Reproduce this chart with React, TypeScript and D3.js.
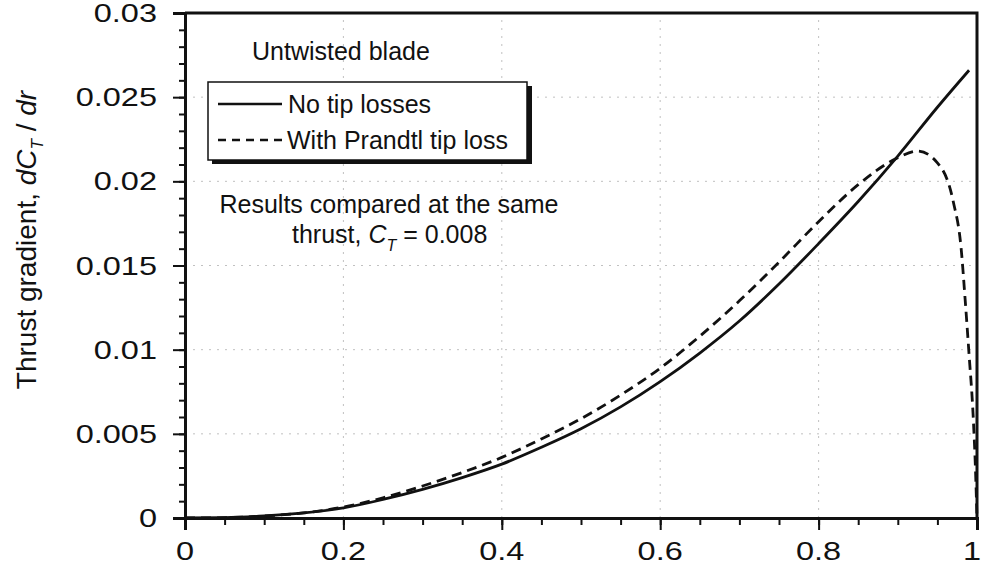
import React, { useEffect, useRef } from 'react'
import * as d3 from 'd3'

// r/R along the blade vs thrust gradient
const rNoLoss = [0, 0.05, 0.1, 0.15, 0.2, 0.25, 0.3, 0.35, 0.4, 0.45, 0.5, 0.55, 0.6, 0.65, 0.7, 0.75, 0.8, 0.85, 0.9, 0.95, 0.99]
const dctNoLoss = [0, 0.00002, 0.00012, 0.0003, 0.0006, 0.0011, 0.0017, 0.0024, 0.0032, 0.0042, 0.0053, 0.0066, 0.0081, 0.0098, 0.0117, 0.0139, 0.0163, 0.0188, 0.0215, 0.0244, 0.0266]

const rPrandtl = [0, 0.05, 0.1, 0.15, 0.2, 0.25, 0.3, 0.35, 0.4, 0.45, 0.5, 0.55, 0.6, 0.65, 0.7, 0.75, 0.8, 0.85, 0.9, 0.925, 0.95, 0.97, 0.98, 0.985, 0.99, 0.995, 0.998, 1]
const dctPrandtl = [0, 0.00002, 0.00012, 0.0003, 0.00065, 0.0012, 0.0019, 0.0027, 0.0036, 0.0047, 0.0059, 0.0073, 0.0089, 0.0108, 0.0129, 0.0152, 0.0176, 0.0198, 0.0214, 0.0218, 0.0211, 0.0188, 0.016, 0.013, 0.0097, 0.0062, 0.003, 0]

const xTicks = [0, 0.2, 0.4, 0.6, 0.8, 1]
const xTickLabels = ['0', '0.2', '0.4', '0.6', '0.8', '1']
const yTicks = [0, 0.005, 0.01, 0.015, 0.02, 0.025, 0.03]
const yTickLabels = ['0', '0.005', '0.01', '0.015', '0.02', '0.025', '0.03']

const W = 982, H = 568
const FONT = '"Liberation Sans", Arial, sans-serif'

function ThrustChart() {
    const ref = useRef<SVGSVGElement>(null)

    useEffect(() => {
        const svg = d3.select(ref.current)
        svg.selectAll('*').remove()

        const x = d3.scaleLinear().domain([0, 1]).range([185, 977])
        const y = d3.scaleLinear().domain([0, 0.03]).range([518, 13])

        // dotted grid
        const grid = svg.append('g').attr('stroke', '#999').attr('stroke-width', 1).attr('stroke-dasharray', '2,6').attr('opacity', 0.6)
        grid.selectAll('line.gx')
            .data(xTicks.slice(1, -1))
            .enter().append('line')
            .attr('x1', d => x(d)).attr('x2', d => x(d))
            .attr('y1', y(0)).attr('y2', y(0.03))
        grid.selectAll('line.gy')
            .data(yTicks.slice(1, -1))
            .enter().append('line')
            .attr('y1', d => y(d)).attr('y2', d => y(d))
            .attr('x1', x(0)).attr('x2', x(1))

        // axes with outward ticks
        const xAxis = d3.axisBottom(x).tickValues(xTicks).tickSize(12).tickFormat(() => '')
        const xMinor = d3.axisBottom(x).tickValues(d3.range(0, 1.0001, 0.05)).tickSize(7).tickFormat(() => '')
        const yAxis = d3.axisLeft(y).tickValues(yTicks).tickSize(12).tickFormat(() => '')
        const yMinor = d3.axisLeft(y).tickValues(d3.range(0, 0.03001, 0.001)).tickSize(6).tickFormat(() => '')

        const styleAxis = (g: any) => {
            g.select('.domain').attr('stroke', '#111').attr('stroke-width', 3)
            g.selectAll('.tick line').attr('stroke', '#111').attr('stroke-width', 2)
        }
        svg.append('g').attr('transform', `translate(0,${y(0)})`).call(xMinor).call(styleAxis)
        svg.append('g').attr('transform', `translate(0,${y(0)})`).call(xAxis).call(styleAxis)
        svg.append('g').attr('transform', `translate(${x(0)},0)`).call(yMinor).call(styleAxis)
        svg.append('g').attr('transform', `translate(${x(0)},0)`).call(yAxis).call(styleAxis)

        // top and right frame
        svg.append('path')
            .attr('d', `M${x(0)},${y(0.03)}H${x(1)}V${y(0)}`)
            .attr('fill', 'none').attr('stroke', '#111').attr('stroke-width', 3)

        // tick labels (glyphs look wide in the original)
        svg.selectAll('text.xl')
            .data(xTicks)
            .enter().append('text')
            .attr('transform', (d: number) => d === 1 ? `translate(981,560) scale(1.3,1)` : `translate(${x(d)},560) scale(1.3,1)`)
            .attr('text-anchor', (d: number) => d === 1 ? 'end' : 'middle')
            .attr('font-family', FONT).attr('font-size', 25).attr('fill', '#111')
            .text((d, i) => xTickLabels[i])
        svg.selectAll('text.yl')
            .data(yTicks)
            .enter().append('text')
            .attr('transform', (d: number) => `translate(157,${y(d) + 9}) scale(1.3,1)`)
            .attr('text-anchor', 'end')
            .attr('font-family', FONT).attr('font-size', 25).attr('fill', '#111')
            .text((d, i) => yTickLabels[i])

        // y axis title
        const yt = svg.append('text')
            .attr('transform', `translate(36,240) rotate(-90)`)
            .attr('text-anchor', 'middle')
            .attr('font-family', FONT).attr('font-size', 28).attr('fill', '#111')
        yt.append('tspan').text('Thrust gradient, ')
        yt.append('tspan').attr('font-style', 'italic').text('dC')
        yt.append('tspan').attr('font-style', 'italic').attr('font-size', 17).attr('dy', 7).text('T')
        yt.append('tspan').attr('dy', -7).text(' / ')
        yt.append('tspan').attr('font-style', 'italic').text('dr')

        // curves
        const line = d3.line<[number, number]>()
            .x(d => x(d[0]))
            .y(d => y(d[1]))
            .curve(d3.curveMonotoneX)

        svg.append('path')
            .datum(rNoLoss.map((r, i) => [r, dctNoLoss[i]] as [number, number]))
            .attr('d', line)
            .attr('fill', 'none').attr('stroke', '#111').attr('stroke-width', 2.8)

        svg.append('path')
            .datum(rPrandtl.map((r, i) => [r, dctPrandtl[i]] as [number, number]))
            .attr('d', line)
            .attr('fill', 'none').attr('stroke', '#111').attr('stroke-width', 2.8)
            .attr('stroke-dasharray', '10,6')

        // annotations
        svg.append('text')
            .attr('x', 252).attr('y', 60)
            .attr('font-family', FONT).attr('font-size', 25).attr('fill', '#111')
            .text('Untwisted blade')

        svg.append('text')
            .attr('x', 389).attr('y', 213).attr('text-anchor', 'middle')
            .attr('font-family', FONT).attr('font-size', 25).attr('fill', '#111')
            .text('Results compared at the same')
        const t2 = svg.append('text')
            .attr('x', 292).attr('y', 243)
            .attr('font-family', FONT).attr('font-size', 25).attr('fill', '#111')
        t2.append('tspan').text('thrust, ')
        t2.append('tspan').attr('font-style', 'italic').text('C')
        t2.append('tspan').attr('font-style', 'italic').attr('font-size', 16).attr('dy', 8).text('T')
        t2.append('tspan').attr('dy', -8).text(' = 0.008')

        // legend box with drop shadow
        const lg = svg.append('g')
        lg.append('rect').attr('x', 212).attr('y', 86).attr('width', 320).attr('height', 78).attr('fill', '#111')
        lg.append('rect').attr('x', 208).attr('y', 82).attr('width', 319).attr('height', 78)
            .attr('fill', '#fff').attr('stroke', '#111').attr('stroke-width', 1.5)
        lg.append('line').attr('x1', 218).attr('x2', 282).attr('y1', 104).attr('y2', 104)
            .attr('stroke', '#111').attr('stroke-width', 2.5)
        lg.append('line').attr('x1', 218).attr('x2', 284).attr('y1', 140).attr('y2', 140)
            .attr('stroke', '#111').attr('stroke-width', 2.5).attr('stroke-dasharray', '8,6')
        lg.append('text').attr('x', 288).attr('y', 113)
            .attr('font-family', FONT).attr('font-size', 25).attr('fill', '#111')
            .text('No tip losses')
        lg.append('text').attr('x', 287).attr('y', 149)
            .attr('font-family', FONT).attr('font-size', 25).attr('fill', '#111')
            .text('With Prandtl tip loss')
    }, [])

    return <svg ref={ref} width={W} height={H} style={{ position: 'absolute', left: 0, top: 0, background: '#fff' }}></svg>
}

export default function App() {
    return <ThrustChart />
}
